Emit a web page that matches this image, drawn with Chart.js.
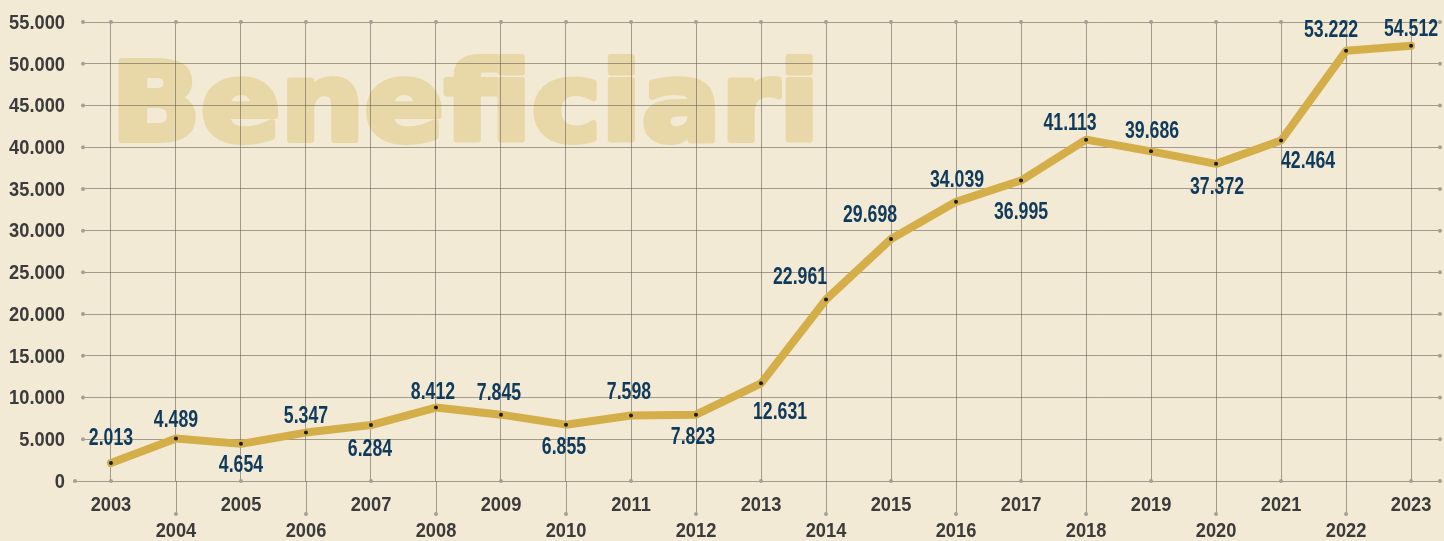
<!DOCTYPE html>
<html>
<head>
<meta charset="utf-8">
<script src="https://cdn.jsdelivr.net/npm/chart.js@4/dist/chart.umd.min.js"></script>
<style>
  html, body { margin: 0; padding: 0; background: #f3ead5; }
  #wrap { width: 1444px; height: 541px; position: relative; }
</style>
</head>
<body>
<div id="wrap"><canvas id="grafico"></canvas></div>
<script>
// anni sull'asse x
const anni = [2003, 2004, 2005, 2006, 2007, 2008, 2009, 2010, 2011, 2012, 2013,
              2014, 2015, 2016, 2017, 2018, 2019, 2020, 2021, 2022, 2023];
// posizione della linea
const beneficiari = [2150, 5100, 4450, 5800, 6700, 8800, 7950, 6750, 7850, 7950, 11700,
                     21750, 29000, 33450, 36000, 40900, 39500, 38000, 40800, 51550, 52150];
// numeri scritti sulle etichette
const etichette = [2013, 4489, 4654, 5347, 6284, 8412, 7845, 6855, 7598, 7823, 12631,
                   22961, 29698, 34039, 36995, 41113, 39686, 37372, 42464, 53222, 54512];
// tick asse y
const ticksY = [0, 5000, 10000, 15000, 20000, 25000, 30000, 35000, 40000, 45000, 50000, 55000];

// spostamento etichette rispetto al punto (dx, dy)
const spostamenti = [
  [0,-25],[0,-19],[0,21],[0,-17],[-1,24],[-3,-16],[-2,-22],[-2,22],[-2,-24],[-3,22],[19,28],
  [-26,-23],[-21,-24],[1,-22],[0,31],[-16,-17],[1,-21],[1,23],[27,20],[-15,-21],[0,-17]
];

function formatta(n){
  return String(n).replace(/\B(?=(\d{3})+(?!\d))/g, '.');
}

const coloreGriglia = 'rgba(95,90,80,0.55)';
const colorePunti = '#a3a097';
const font = "'Liberation Sans', Arial, sans-serif";

// testo stretto (il font condensato non c'e')
function testoStretto(c, testo, x, y, scala, allinea){
  c.save();
  c.translate(x, y);
  c.scale(scala, 1);
  c.textAlign = allinea;
  c.fillText(testo, 0, 0);
  c.restore();
}

// scritta di sfondo
const sfondo = {
  id: 'sfondo',
  beforeDraw(chart){
    const c = chart.ctx;
    c.save();
    c.fillStyle = '#e9d8a7';
    c.strokeStyle = '#e9d8a7';
    c.lineWidth = 6;
    c.lineJoin = 'round';
    c.font = "bold 108px 'DejaVu Sans', sans-serif";
    c.textBaseline = 'alphabetic';
    c.translate(111, 140);
    c.scale(1.09, 1);
    c.textAlign = 'left';
    c.fillText('Beneficiari', 0, 0);
    c.strokeText('Beneficiari', 0, 0);
    c.restore();
  }
};

// puntini alle estremità della griglia e tacche lunghe
const griglia = {
  id: 'griglia',
  beforeDatasetsDraw(chart){
    const c = chart.ctx;
    const x = chart.scales.x, y = chart.scales.y;
    const area = chart.chartArea;
    const y0 = y.getPixelForValue(0);
    c.save();
    c.strokeStyle = coloreGriglia;
    c.lineWidth = 1;
    c.beginPath();
    c.moveTo(75, Math.round(y0) + 0.5);
    c.lineTo(area.left, Math.round(y0) + 0.5);
    c.stroke();
    c.fillStyle = colorePunti;
    anni.forEach(function(a, i){
      const px = x.getPixelForValue(a);
      let fondo = y0;
      if (i % 2 === 1){
        fondo = y0 + 33;
        c.beginPath();
        c.moveTo(Math.round(px) + 0.5, y0);
        c.lineTo(Math.round(px) + 0.5, fondo);
        c.stroke();
      }
      c.beginPath(); c.arc(px, fondo, 2, 0, Math.PI * 2); c.fill();
      c.beginPath(); c.arc(px, area.top, 2, 0, Math.PI * 2); c.fill();
    });
    ticksY.forEach(function(v){
      const py = y.getPixelForValue(v);
      const sx = v === 0 ? 75 : area.left;
      c.beginPath(); c.arc(sx, py, 2, 0, Math.PI * 2); c.fill();
      c.beginPath(); c.arc(area.right, py, 2, 0, Math.PI * 2); c.fill();
    });
    c.restore();
  }
};

// etichette degli assi, stese con le posizioni delle scale
const assi = {
  id: 'assi',
  afterDraw(chart){
    const c = chart.ctx;
    const x = chart.scales.x, y = chart.scales.y;
    const area = chart.chartArea;
    c.save();
    c.fillStyle = '#3b3b3b';
    c.font = "bold 21px " + font;
    c.textBaseline = 'middle';
    y.ticks.forEach(function(t){
      testoStretto(c, formatta(t.value), area.left - 18, y.getPixelForValue(t.value) + 1, 0.87, 'right');
    });
    x.ticks.forEach(function(t, i){
      const riga = i % 2 === 0 ? 24 : 50;
      testoStretto(c, String(t.value), x.getPixelForValue(t.value), area.bottom + riga, 0.87, 'center');
    });
    c.restore();
  }
};

// etichette con i valori
const valori = {
  id: 'valori',
  afterDatasetsDraw(chart){
    const c = chart.ctx;
    const meta = chart.getDatasetMeta(0);
    c.save();
    c.fillStyle = '#0f3a5c';
    c.font = "bold 23px " + font;
    c.textBaseline = 'middle';
    meta.data.forEach(function(p, i){
      testoStretto(c, formatta(etichette[i]), p.x + spostamenti[i][0], p.y + spostamenti[i][1] + 1, 0.77, 'center');
    });
    c.restore();
  }
};

const ctx = document.getElementById('grafico').getContext('2d');
const grafico = new Chart(ctx, {
  type: 'line',
  data: {
    datasets: [{
      data: anni.map(function(a, i){ return {x: a, y: beneficiari[i]}; }),
      borderColor: '#d4ae48',
      borderWidth: 8,
      borderJoinStyle: 'round',
      borderCapStyle: 'round',
      pointRadius: 2,
      pointBackgroundColor: '#1b1b1b',
      pointBorderWidth: 0,
      tension: 0,
      clip: false
    }]
  },
  options: {
    responsive: true,
    maintainAspectRatio: false,
    animation: false,
    events: [],
    layout: { padding: { top: 22, right: 2, left: 0, bottom: 0 } },
    plugins: { legend: { display: false }, tooltip: { enabled: false } },
    scales: {
      x: {
        type: 'linear',
        min: 2002.57,
        max: 2023.445,
        afterBuildTicks: function(s){ s.ticks = anni.map(function(a){ return {value: a}; }); },
        afterFit: function(s){ s.height = 60; },
        border: { display: false },
        grid: { color: coloreGriglia, drawTicks: false, lineWidth: 1 },
        ticks: { display: false, autoSkip: false, maxRotation: 0 }
      },
      y: {
        min: 0,
        max: 55000,
        afterBuildTicks: function(s){ s.ticks = ticksY.map(function(v){ return {value: v}; }); },
        afterFit: function(s){ s.width = 83; },
        border: { display: false },
        grid: { color: coloreGriglia, drawTicks: false, lineWidth: 1 },
        ticks: { display: false }
      }
    }
  },
  plugins: [sfondo, griglia, assi, valori]
});
</script>
</body>
</html>
